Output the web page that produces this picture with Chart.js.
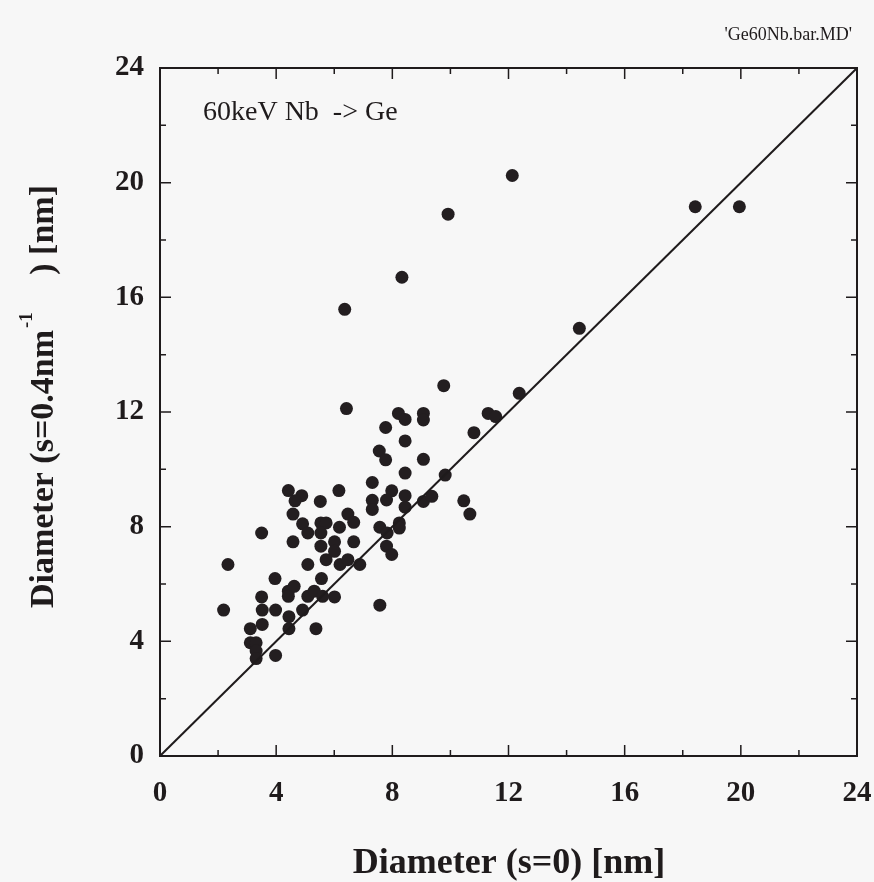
<!DOCTYPE html>
<html>
<head>
<meta charset="utf-8">
<script src="https://cdn.jsdelivr.net/npm/chart.js@4"></script>
<style>
  html, body { margin: 0; padding: 0; background: #f7f7f7; }
  #wrap { width: 874px; height: 882px; }
</style>
</head>
<body>
<div id="wrap"><canvas id="scatterChart" width="874" height="882"></canvas></div>
<script>
// measured diameters, s=0 (x) vs s=0.4nm^-1 (y)
var diamS0 = [
  12.13, 9.92, 18.43, 19.95, 8.33, 6.36, 14.44, 9.77, 12.37, 6.42,
  8.21, 8.44, 9.07, 9.07, 11.3, 11.56, 7.77, 10.81, 8.44, 7.55,
  7.77, 9.07, 8.44, 9.82, 7.31, 4.42, 4.88, 4.65, 6.16, 5.52,
  7.31, 7.98, 7.8, 8.44, 8.44, 7.31, 9.07, 9.36, 10.46, 10.67,
  4.58, 4.91, 5.09, 5.54, 5.72, 5.54, 6.18, 6.47, 6.67, 7.57,
  7.82, 8.24, 8.24, 3.5, 4.58, 6.67, 5.54, 6.01, 6.01, 5.72,
  6.2, 6.47, 6.88, 5.09, 7.8, 7.98, 2.34, 3.96, 5.56, 4.42,
  4.62, 4.42, 5.09, 5.31, 5.6, 6.01, 3.5, 7.57, 2.19, 3.52,
  3.98, 4.91, 4.44, 3.52, 3.11, 4.44, 5.37, 3.11, 3.31, 3.31,
  3.31, 3.98
];
var diamS04 = [
  20.25, 18.9, 19.16, 19.16, 16.7, 15.58, 14.92, 12.92, 12.65, 12.12,
  11.95, 11.74, 11.95, 11.72, 11.95, 11.84, 11.46, 11.28, 10.99, 10.64,
  10.33, 10.35, 9.87, 9.8, 9.54, 9.26, 9.08, 8.9, 9.26, 8.88,
  8.92, 9.25, 8.93, 9.08, 8.68, 8.6, 8.88, 9.06, 8.9, 8.44,
  8.44, 8.1, 7.78, 8.13, 8.13, 7.78, 7.98, 8.44, 8.15, 7.98,
  7.78, 8.13, 7.95, 7.78, 7.47, 7.47, 7.32, 7.47, 7.14, 6.85,
  6.68, 6.85, 6.68, 6.68, 7.32, 7.03, 6.68, 6.19, 6.19, 5.75,
  5.92, 5.57, 5.57, 5.75, 5.57, 5.55, 5.55, 5.26, 5.09, 5.09,
  5.09, 5.09, 4.86, 4.59, 4.44, 4.44, 4.44, 3.95, 3.95, 3.66,
  3.4, 3.51
];
// y = x reference line
var lineX = [0, 24];
var lineY = [0, 24];
var tickValues = [0, 4, 8, 12, 16, 20, 24];

var serif = '"Liberation Serif", "Times New Roman", serif';

var points = diamS0.map(function(x, i) { return { x: x, y: diamS04[i] }; });
var diag = lineX.map(function(x, i) { return { x: x, y: lineY[i] }; });

// frame, inward ticks and the texts
var framePlugin = {
    id: 'frame',
    afterDatasetsDraw: function(chart) {
        var c = chart.ctx, a = chart.chartArea;
        var xs = chart.scales.x, ys = chart.scales.y;
        c.save();
        c.strokeStyle = '#1f1b1c';
        c.lineWidth = 2;
        c.strokeRect(a.left, a.top, a.right - a.left, a.bottom - a.top);
        c.lineWidth = 1.5;
        for (var v = 2; v < 24; v += 2) {
            var len = (v % 4 === 0) ? 11 : 6;
            var px = xs.getPixelForValue(v);
            var py = ys.getPixelForValue(v);
            c.beginPath();
            c.moveTo(px, a.bottom); c.lineTo(px, a.bottom - len);
            c.moveTo(px, a.top); c.lineTo(px, a.top + len);
            c.moveTo(a.left, py); c.lineTo(a.left + len, py);
            c.moveTo(a.right, py); c.lineTo(a.right - len, py);
            c.stroke();
        }
        c.fillStyle = '#1f1b1c';
        // x title
        c.font = 'bold 36px ' + serif;
        c.textAlign = 'center';
        c.textBaseline = 'alphabetic';
        c.fillText('Diameter (s=0) [nm]', 509, 873);
        // y title with superscript, anchored at its top end
        c.save();
        c.translate(53, 185);
        c.rotate(-Math.PI / 2);
        c.font = 'bold 34px ' + serif;
        c.textAlign = 'right';
        c.fillText('Diameter (s=0.4nm', -145, 0);
        c.fillText(') [nm]', 0, 0);
        c.font = 'bold 19px ' + serif;
        c.textAlign = 'left';
        c.fillText('-1', -143, -21);
        c.restore();
        // annotation
        c.font = '28px ' + serif;
        c.textAlign = 'left';
        c.fillText('60keV Nb  -> Ge', 203, 120);
        c.font = '18px ' + serif;
        c.textAlign = 'right';
        c.fillText("'Ge60Nb.bar.MD'", 852, 40);
        c.restore();
    }
};

var ctx = document.getElementById('scatterChart').getContext('2d');

var myChart = new Chart(ctx, {
    type: 'scatter',
    data: {
        datasets: [{
            label: 'y = x',
            data: diag,
            showLine: true,
            borderColor: '#1f1b1c',
            borderWidth: 2,
            pointRadius: 0,
            fill: false
        }, {
            label: 'Ge60Nb',
            data: points,
            backgroundColor: '#231e20',
            borderColor: '#231e20',
            borderWidth: 0,
            pointRadius: 6.5,
            pointHoverRadius: 6.5
        }]
    },
    options: {
        responsive: false,
        animation: false,
        layout: { padding: { left: 0, right: 17, top: 68, bottom: 0 } },
        plugins: {
            legend: { display: false },
            tooltip: { enabled: false }
        },
        scales: {
            x: {
                type: 'linear',
                min: 0,
                max: 24,
                afterFit: function(scale) {
                    scale.height = 126;
                    scale.paddingLeft = 0;
                    scale.paddingRight = 0;
                },
                afterBuildTicks: function(scale) {
                    scale.ticks = tickValues.map(function(v) { return { value: v }; });
                },
                grid: { display: false, drawTicks: false },
                border: { display: false },
                ticks: {
                    padding: 20,
                    color: '#1f1b1c',
                    font: { family: serif, size: 29, weight: 'bold' }
                }
            },
            y: {
                type: 'linear',
                min: 0,
                max: 24,
                afterFit: function(scale) {
                    scale.width = 160;
                    scale.paddingTop = 0;
                    scale.paddingBottom = 0;
                },
                afterBuildTicks: function(scale) {
                    scale.ticks = tickValues.map(function(v) { return { value: v }; });
                },
                grid: { display: false, drawTicks: false },
                border: { display: false },
                ticks: {
                    padding: 16,
                    color: '#1f1b1c',
                    font: { family: serif, size: 29, weight: 'bold' }
                }
            }
        }
    },
    plugins: [framePlugin]
});
</script>
</body>
</html>
